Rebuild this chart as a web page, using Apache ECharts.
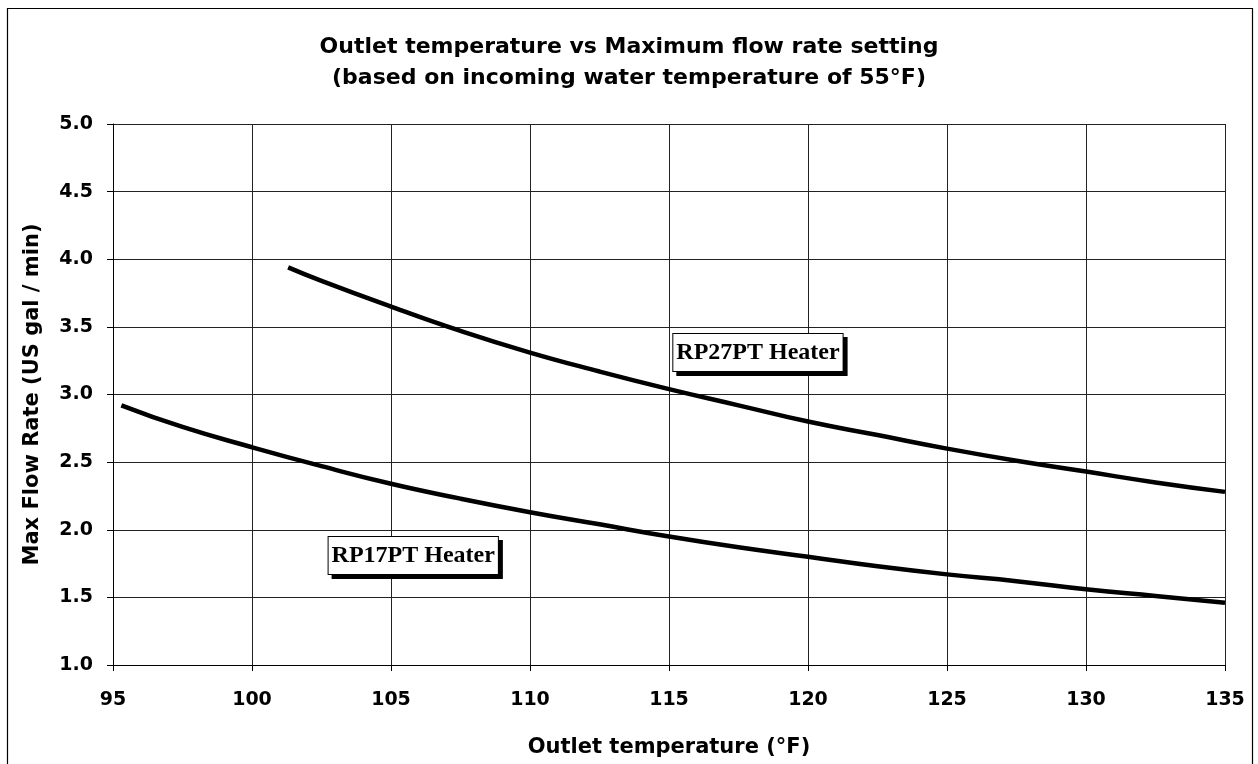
<!DOCTYPE html>
<html><head><meta charset="utf-8">
<script src="https://cdn.jsdelivr.net/npm/echarts@6/dist/echarts.min.js"></script>
<style>html,body{margin:0;padding:0;background:#fff}#c{width:1258px;height:764px}</style>
</head><body><div id="c"></div>
<script>
const rp17Temp = [95.3, 97.5, 100, 102.5, 105, 107.5, 110, 112.5, 115, 117.5, 120, 122.5, 125, 127.5, 130, 132.5, 135];
const rp17Flow = [2.92, 2.76, 2.61, 2.47, 2.34, 2.23, 2.13, 2.04, 1.95, 1.87, 1.80, 1.73, 1.67, 1.62, 1.56, 1.51, 1.46];
const rp27Temp = [101.3, 102.5, 105, 107.5, 110, 112.5, 115, 117.5, 120, 122.5, 125, 127.5, 130, 132.5, 135];
const rp27Flow = [3.94, 3.84, 3.65, 3.47, 3.31, 3.17, 3.04, 2.92, 2.80, 2.70, 2.60, 2.51, 2.43, 2.35, 2.28];
const seriesNames = ['RP17PT Heater', 'RP27PT Heater'];
const labelPos = [[105.8, 1.81], [118.2, 3.31]];
const titleLines = ['Outlet temperature vs Maximum flow rate setting', '(based on incoming water temperature of 55°F)'];
const xTitle = 'Outlet temperature (°F)';
const yTitle = 'Max Flow Rate (US gal / min)';

const chart = echarts.init(document.getElementById('c'), null, {renderer: 'canvas'});
const font = '"DejaVu Sans", sans-serif';
const zip = (a, b) => a.map((v, i) => [v, b[i]]);
const boxLabel = {
  show: true, formatter: p => p.name, position: 'inside',
  fontFamily: '"Liberation Serif", "Times New Roman", serif', fontWeight: 'bold', fontSize: 24, color: '#000',
  backgroundColor: '#ffffff', borderColor: '#000', borderWidth: 1, padding: [8, 3, 5, 3],
  shadowColor: '#000', shadowOffsetX: 4, shadowOffsetY: 4, shadowBlur: 0, opacity: 1
};
chart.setOption({
  backgroundColor: '#fff',
  animation: false,
  title: {
    text: titleLines.join('\n'), left: 'center', top: 27,
    textStyle: {fontFamily: font, fontWeight: 'bold', fontSize: 22, color: '#000', lineHeight: 31}
  },
  graphic: [{type: 'rect', shape: {x: 7.5, y: 8.5, width: 1245, height: 770}, style: {fill: 'none', stroke: '#000', lineWidth: 1.2}, z: -1}],
  grid: {left: 113, right: 33, top: 124, bottom: 99, containLabel: false, outerBoundsMode: 'none'},
  xAxis: {
    type: 'value', min: 95, max: 135, interval: 5,
    name: xTitle, nameLocation: 'middle', nameGap: 72,
    nameTextStyle: {fontFamily: font, fontWeight: 'bold', fontSize: 21, color: '#000'},
    axisLine: {lineStyle: {color: '#000', width: 1}},
    axisTick: {show: true, length: 6, lineStyle: {color: '#000'}},
    axisLabel: {fontFamily: font, fontWeight: 'bold', fontSize: 19, color: '#000', margin: 26},
    splitLine: {show: true, lineStyle: {color: '#222', width: 1}}
  },
  yAxis: {
    type: 'value', min: 1, max: 5, interval: 0.5,
    name: yTitle, nameLocation: 'middle', nameGap: 70,
    nameTextStyle: {fontFamily: font, fontWeight: 'bold', fontSize: 21, color: '#000'},
    axisLine: {show: true, lineStyle: {color: '#000', width: 1}},
    axisTick: {show: true, length: 6, lineStyle: {color: '#000'}},
    axisLabel: {fontFamily: font, fontWeight: 'bold', fontSize: 19, color: '#000', margin: 20, formatter: v => v.toFixed(1)},
    splitLine: {show: true, lineStyle: {color: '#222', width: 1}}
  },
  series: [
    {type: 'line', name: seriesNames[0], data: zip(rp17Temp, rp17Flow), smooth: true, showSymbol: false, lineStyle: {color: '#000', width: 4.5}},
    {type: 'line', name: seriesNames[1], data: zip(rp27Temp, rp27Flow), smooth: true, showSymbol: false, lineStyle: {color: '#000', width: 4.5}},
    {type: 'scatter', symbolSize: 0, itemStyle: {color: '#000', opacity: 1}, label: boxLabel, z: 10, silent: true,
     emphasis: {disabled: true},
     data: labelPos.map((p, i) => ({name: seriesNames[i], value: p}))}
  ]
});
</script></body></html>
